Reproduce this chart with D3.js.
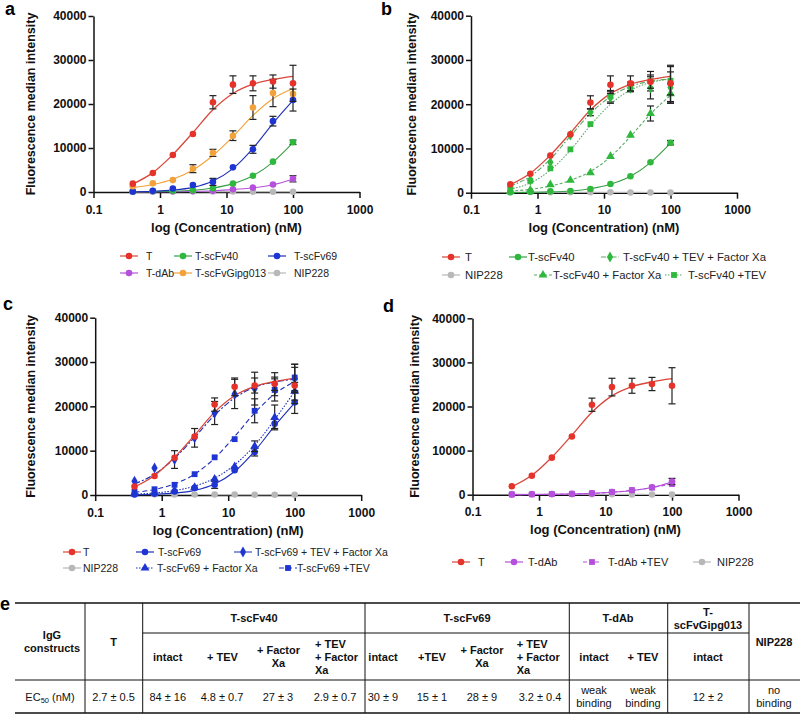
<!DOCTYPE html>
<html>
<head>
<meta charset="utf-8">
<script src="https://cdn.jsdelivr.net/npm/d3@7"></script>
<style>
  body { margin: 0; background: #fff; }
  svg { font-family: Arial, "Liberation Sans", sans-serif; }
</style>
</head>
<body>
<svg id="fig" width="800" height="714"></svg>
<script>
// ---- data ----
// concentrations of the dilution series (nM)
const concentrations = [0.39, 0.78, 1.56, 3.125, 6.25, 12.5, 25, 50, 100];
const xTicks = [0.1, 1, 10, 100, 1000];
const yTicks = [0, 10000, 20000, 30000, 40000];

// mean / error (SD) / fitted curve, one value per concentration
const tMean = [1900, 4300, 8400, 13200, 20400, 24400, 24700, 25100, 24700];
const tErr  = [0, 0, 0, 0, 1500, 2000, 1700, 1500, 4100];
const tFit  = [1800, 4400, 8500, 13500, 18700, 22400, 24500, 25600, 26300];

const scFv40Mean = [100, 200, 300, 400, 850, 1950, 3700, 6900, 11300];
const scFv40Err  = [0, 0, 0, 0, 0, 0, 0, 0, 500];
const scFv40Fit  = [30, 80, 180, 400, 900, 1900, 3700, 6800, 11200];

const scFv40TevMean = [800, 2700, 5500, 9800, 15500, 21800, 24000, 25200, 25300];
const scFv40TevErr  = [0, 0, 0, 0, 0, 1300, 1000, 2200, 3200];
const scFv40TevFit  = [800, 2200, 5100, 9600, 15200, 20000, 23200, 24900, 25700];

const scFv40FxMean = [300, 600, 1800, 2800, 4500, 8200, 13000, 17900, 22400];
const scFv40FxErr  = [0, 0, 0, 0, 0, 0, 0, 1700, 2200];
const scFv40FxFit  = [350, 750, 1500, 2800, 4800, 8100, 12700, 17800, 22000];

const scFv40TevFxMean = [1300, 2800, 6900, 13000, 18200, 21500, 23600, 23700, 23800];
const scFv40TevFxErr  = [0, 0, 0, 0, 800, 1300, 800, 2500, 3500];
const scFv40TevFxFit  = [1500, 3700, 7600, 12800, 17900, 21700, 24000, 25200, 25700];

const scFv69Mean = [100, 300, 800, 1600, 2300, 5600, 9700, 16100, 20900];
const scFv69Err  = [0, 0, 0, 0, 800, 0, 900, 1100, 2500];
const scFv69Fit  = [60, 160, 420, 1050, 2500, 5300, 9900, 15600, 20800];

const scFv69TevMean = [700, 1300, 2300, 4700, 8500, 12600, 19000, 23700, 26500];
const scFv69TevErr  = [0, 0, 0, 0, 0, 0, 2700, 2500, 3000];
const scFv69TevFit  = [600, 1250, 2500, 4700, 8300, 13200, 18500, 22800, 25600];

const scFv69FxMean = [300, 500, 1000, 1700, 3600, 6400, 11000, 17500, 23400];
const scFv69FxErr  = [0, 0, 0, 0, 0, 0, 1200, 2800, 2000];
const scFv69FxFit  = [200, 450, 1000, 2000, 3800, 6800, 11200, 17000, 23400];

const scFv69TevFxMean = [3100, 6100, 8000, 12900, 18500, 22800, 24000, 25000, 26300];
const scFv69TevFxErr  = [0, 0, 2000, 2100, 2600, 3300, 3700, 2600, 3200];
const scFv69TevFxFit  = [2500, 4700, 8300, 13000, 18000, 21900, 24300, 25500, 26100];

const dAbMean = [50, 100, 150, 200, 300, 600, 1000, 1700, 3000];
const dAbErr  = [0, 0, 0, 0, 0, 0, 0, 0, 700];
const dAbFit  = [20, 40, 80, 150, 290, 540, 950, 1650, 2900];

const dAbTevMean = [50, 80, 150, 200, 350, 650, 1050, 1600, 2400];
const dAbTevErr  = [0, 0, 0, 0, 0, 0, 0, 0, 0];
const dAbTevFit  = [20, 40, 80, 160, 300, 560, 980, 1600, 2500];

const gipgMean = [1300, 2000, 2700, 5300, 8900, 12800, 19200, 22500, 22300];
const gipgErr  = [0, 0, 0, 900, 800, 1100, 2700, 3100, 0];
const gipgFit  = [1000, 1700, 2900, 5000, 8300, 12600, 17400, 21200, 23500];

const nipMean = [150, 150, 100, 100, 100, 100, 50, 50, 50];
const nipErr  = [0, 0, 0, 0, 0, 0, 0, 0, 0];
const nipFit  = [120, 110, 100, 100, 90, 80, 70, 60, 50];

// table e
const tableGroups = ['T-scFv40', 'T-scFv69', 'T-dAb', 'T-scFvGipg013'];
const tableSubHeaders = ['intact', '+ TEV', '+ Factor Xa', '+ TEV + Factor Xa',
                         'intact', '+TEV', '+ Factor Xa', '+ TEV + Factor Xa',
                         'intact', '+ TEV', 'intact'];
const ec50Values = ['2.7 ± 0.5', '84 ± 16', '4.8 ± 0.7', '27 ± 3', '2.9 ± 0.7',
                    '30 ± 9', '15 ± 1', '28 ± 9', '3.2 ± 0.4',
                    'weak binding', 'weak binding', '12 ± 2', 'no binding'];

// ---- styles ----
const RED = '#e5322a', GREEN = '#2fb83d', BLUE = '#1e35d2',
      PURPLE = '#b550dc', ORANGE = '#f2a23a', GRAY = '#b8b8b8';

const series = {
  T:         {name: 'T', mean: tMean, err: tErr, fit: tFit, color: RED, line: '#d8463a', sym: d3.symbolCircle, dash: null},
  s40:       {name: 'T-scFv40', mean: scFv40Mean, err: scFv40Err, fit: scFv40Fit, color: GREEN, line: '#3a9f48', sym: d3.symbolCircle, dash: null},
  s40Tev:    {name: 'T-scFv40 +TEV', mean: scFv40TevMean, err: scFv40TevErr, fit: scFv40TevFit, color: GREEN, line: '#5aa864', sym: d3.symbolSquare, dash: '1.5,1.5'},
  s40Fx:     {name: 'T-scFv40 + Factor Xa', mean: scFv40FxMean, err: scFv40FxErr, fit: scFv40FxFit, color: GREEN, line: '#5aa864', sym: d3.symbolTriangle, dash: '3,2'},
  s40TevFx:  {name: 'T-scFv40 + TEV + Factor Xa', mean: scFv40TevFxMean, err: scFv40TevFxErr, fit: scFv40TevFxFit, color: GREEN, line: '#5aa864', sym: d3.symbolDiamond, dash: '5,2,1.5,2'},
  s69:       {name: 'T-scFv69', mean: scFv69Mean, err: scFv69Err, fit: scFv69Fit, color: BLUE, line: '#1c2fb8', sym: d3.symbolCircle, dash: null},
  s69Tev:    {name: 'T-scFv69 +TEV', mean: scFv69TevMean, err: scFv69TevErr, fit: scFv69TevFit, color: BLUE, line: '#1c2fb8', sym: d3.symbolSquare, dash: '5,3'},
  s69Fx:     {name: 'T-scFv69 + Factor Xa', mean: scFv69FxMean, err: scFv69FxErr, fit: scFv69FxFit, color: BLUE, line: '#1c2fb8', sym: d3.symbolTriangle, dash: '1.5,1.5'},
  s69TevFx:  {name: 'T-scFv69 + TEV + Factor Xa', mean: scFv69TevFxMean, err: scFv69TevFxErr, fit: scFv69TevFxFit, color: BLUE, line: '#1c2fb8', sym: d3.symbolDiamond, dash: '6,2,2,2'},
  dAb:       {name: 'T-dAb', mean: dAbMean, err: dAbErr, fit: dAbFit, color: PURPLE, line: PURPLE, sym: d3.symbolCircle, dash: null},
  dAbTev:    {name: 'T-dAb +TEV', mean: dAbTevMean, err: dAbTevErr, fit: dAbTevFit, color: PURPLE, line: PURPLE, sym: d3.symbolSquare, dash: '4,2'},
  gipg:      {name: 'T-scFvGipg013', mean: gipgMean, err: gipgErr, fit: gipgFit, color: ORANGE, line: ORANGE, sym: d3.symbolCircle, dash: null},
  nip:       {name: 'NIP228', mean: nipMean, err: nipErr, fit: nipFit, color: GRAY, line: GRAY, sym: d3.symbolCircle, dash: null}
};

const symSize = {};
symSize[d3.symbolCircle] = 32; symSize[d3.symbolSquare] = 30;
symSize[d3.symbolTriangle] = 34; symSize[d3.symbolDiamond] = 34;

// panel layouts (x0 = position of 0.1, x1 = position of 1000)
const panels = [
  {letter: 'a', lx: 5, ly: 15, x0: 93.5, x1: 359.5, y0: 192, y1: 16, ylabX: 31, lfont: 10.5,
   draw: ['nip', 'dAb', 's40', 's69', 'gipg', 'T'],
   legendRows: [256, 273],
   legend: [['T', 129, 146, 0], ['s40', 183, 195, 0], ['s69', 277, 294, 0],
            ['dAb', 129, 146, 1], ['gipg', 183, 195, 1], ['nip', 277, 294, 1]]},
  {letter: 'b', lx: 381, ly: 15, x0: 471, x1: 737, y0: 192.7, y1: 15.7, ylabX: 412, lfont: 11.3,
   draw: ['nip', 's40', 's40Fx', 's40Tev', 's40TevFx', 'T'],
   legendRows: [257, 275],
   legend: [['T', 451, 465, 0], ['s40', 518, 528, 0], ['s40TevFx', 610, 623, 0],
            ['nip', 451, 465, 1], ['s40Fx', 543, 553, 1], ['s40Tev', 674, 688, 1]]},
  {letter: 'c', lx: 3, ly: 310, x0: 95.2, x1: 361.2, y0: 495, y1: 317.7, ylabX: 31, lfont: 10.5,
   draw: ['nip', 's69', 's69Fx', 's69Tev', 's69TevFx', 'T'],
   legendRows: [552, 568],
   legend: [['T', 72, 83, 0], ['s69', 145, 158, 0], ['s69TevFx', 243, 255, 0],
            ['nip', 72, 83, 1], ['s69Fx', 145, 157, 1], ['s69Tev', 288, 297, 1]]},
  {letter: 'd', lx: 383, ly: 312, x0: 472.5, x1: 738.5, y0: 494.7, y1: 318.3, ylabX: 415, lfont: 11,
   draw: ['nip', 'dAbTev', 'dAb', 'T'],
   legendRows: [562],
   legend: [['T', 461, 478, 0], ['dAb', 514, 528, 0], ['dAbTev', 592, 608, 0], ['nip', 702, 717, 0]]}
];

const svg = d3.select('#fig');

panels.forEach(function(p) {
  let g = svg.append('g');
  let x = d3.scaleLog().domain([0.1, 1000]).range([p.x0, p.x1]);
  let y = d3.scaleLinear().domain([0, 40000]).range([p.y0, p.y1]);

  // axes
  let yAxis = g.append('g').attr('transform', 'translate(' + p.x0 + ',0)')
    .call(d3.axisLeft(y).tickValues(yTicks).tickSize(5).tickSizeOuter(0).tickPadding(2)
      .tickFormat(d3.format('d')));
  let xAxis = g.append('g').attr('transform', 'translate(0,' + p.y0 + ')')
    .call(d3.axisBottom(x).tickValues(xTicks).tickSize(6).tickSizeOuter(0).tickPadding(7)
      .tickFormat(function(d) { return String(d); }));
  [xAxis, yAxis].forEach(function(a) {
    a.select('.domain').attr('stroke', '#111').attr('stroke-width', 1.5);
    a.selectAll('.tick line').attr('stroke', '#111').attr('stroke-width', 1.5);
    a.selectAll('.tick text').attr('font-size', 12).attr('font-weight', 'bold').attr('fill', '#111')
      .attr('font-family', 'Arial, "Liberation Sans", sans-serif');
  });

  // axis titles
  g.append('text')
    .attr('x', (p.x0 + p.x1) / 2).attr('y', p.y0 + 39.5)
    .attr('text-anchor', 'middle').attr('font-size', 13).attr('font-weight', 'bold').attr('fill', '#111')
    .text('log (Concentration) (nM)');
  g.append('text')
    .attr('transform', 'translate(' + p.ylabX + ',' + ((p.y0 + p.y1) / 2) + ') rotate(-90)')
    .attr('dy', '0.35em')
    .attr('text-anchor', 'middle').attr('font-size', 12.5).attr('font-weight', 'bold').attr('fill', '#111')
    .text('Fluorescence median intensity');

  // panel letter
  svg.append('text').attr('x', p.lx).attr('y', p.ly)
    .attr('font-size', 18).attr('font-weight', 'bold').text(p.letter);

  let line = d3.line()
    .x(function(d) { return x(d[0]); })
    .y(function(d) { return y(d[1]); })
    .curve(d3.curveMonotoneX);

  // fitted curves
  p.draw.forEach(function(key) {
    let s = series[key];
    g.append('path')
      .datum(concentrations.map(function(c, i) { return [c, s.fit[i]]; }))
      .attr('d', line)
      .attr('fill', 'none')
      .attr('stroke', s.line)
      .attr('stroke-width', key === 'T' ? 1.3 : 1.1)
      .attr('stroke-dasharray', s.dash);
  });

  // error bars then markers
  p.draw.forEach(function(key) {
    let s = series[key];
    let pts = concentrations.map(function(c, i) { return {c: c, v: s.mean[i], e: s.err[i]}; });
    let eb = g.append('g').selectAll('g').data(pts.filter(function(d) { return d.e > 0; }))
      .enter().append('g').attr('stroke', '#222').attr('stroke-width', 1.2);
    eb.append('line')
      .attr('x1', function(d) { return x(d.c); }).attr('x2', function(d) { return x(d.c); })
      .attr('y1', function(d) { return y(d.v + d.e); }).attr('y2', function(d) { return y(d.v - d.e); });
    eb.append('line')
      .attr('x1', function(d) { return x(d.c) - 3.5; }).attr('x2', function(d) { return x(d.c) + 3.5; })
      .attr('y1', function(d) { return y(d.v + d.e); }).attr('y2', function(d) { return y(d.v + d.e); });
    eb.append('line')
      .attr('x1', function(d) { return x(d.c) - 3.5; }).attr('x2', function(d) { return x(d.c) + 3.5; })
      .attr('y1', function(d) { return y(d.v - d.e); }).attr('y2', function(d) { return y(d.v - d.e); });

    g.append('g').selectAll('path').data(pts).enter().append('path')
      .attr('d', d3.symbol().type(s.sym).size(symSize[s.sym]))
      .attr('transform', function(d) { return 'translate(' + x(d.c) + ',' + y(d.v) + ')'; })
      .attr('fill', s.color);
  });

  // legend
  p.legend.forEach(function(item) {
    let s = series[item[0]];
    let ly = p.legendRows[item[3]];
    g.append('line')
      .attr('x1', item[1] - 9).attr('x2', item[1] + 9).attr('y1', ly).attr('y2', ly)
      .attr('stroke', s.line).attr('stroke-width', 1.2).attr('stroke-dasharray', s.dash);
    g.append('path')
      .attr('d', d3.symbol().type(s.sym).size(symSize[s.sym]))
      .attr('transform', 'translate(' + item[1] + ',' + ly + ')')
      .attr('fill', s.color);
    g.append('text').attr('x', item[2]).attr('y', ly + 4)
      .attr('font-size', p.lfont).attr('fill', '#222').text(s.name);
  });
});

// ---- table e ----
const tb = svg.append('g').attr('font-size', 11).attr('fill', '#111');
svg.append('text').attr('x', 0).attr('y', 610).attr('font-size', 18).attr('font-weight', 'bold').text('e');

const tTop = 603, tMid = 633, tHead = 680, tBot = 713;
const vLines = [85, 142.7, 365, 569.3, 667.7, 749];

function hline(y, xa, xb, w) {
  tb.append('line').attr('x1', xa).attr('x2', xb).attr('y1', y).attr('y2', y)
    .attr('stroke', '#111').attr('stroke-width', w);
}
hline(tTop, 15, 800, 1.3);
hline(tMid, vLines[1], vLines[5], 1);
hline(tHead, 15, 800, 1);
hline(tBot, 15, 800, 1.3);
vLines.forEach(function(vx) {
  tb.append('line').attr('x1', vx).attr('x2', vx).attr('y1', tTop).attr('y2', tBot)
    .attr('stroke', '#111').attr('stroke-width', 1);
});

// multi-line text centred vertically on yc
function cell(xp, yc, lines, anchor, bold) {
  let t = tb.append('text').attr('text-anchor', anchor)
    .attr('font-weight', bold ? 'bold' : 'normal');
  lines.forEach(function(l, i) {
    t.append('tspan').attr('x', xp)
      .attr('y', yc - (lines.length - 1) * 13 / 2 + i * 13 + 4)
      .text(l);
  });
}
// line breaks used in the table
function wrapLabel(s) {
  if (s === '+ TEV + Factor Xa') return ['+ TEV', '+ Factor', 'Xa'];
  if (s === '+ Factor Xa') return ['+ Factor', 'Xa'];
  if (s === 'T-scFvGipg013') return ['T-', 'scFvGipg013'];
  if (s === 'weak binding') return ['weak', 'binding'];
  if (s === 'no binding') return ['no', 'binding'];
  if (s === 'IgG constructs') return ['IgG', 'constructs'];
  return [s];
}

const groupX = [254, 467, 618, 708];
const subX = [167.7, 222.5, 278.5, 315, 383, 432, 482, 516.7, 594, 643, 708];
const dataX = [113.5, 167.7, 222, 278, 335, 383, 432, 482, 540, 594, 643, 708, 774];

cell(52, (tTop + tHead) / 2, wrapLabel('IgG constructs'), 'middle', true);
cell(113.5, (tTop + tHead) / 2, ['T'], 'middle', true);
cell(774, (tTop + tHead) / 2, ['NIP228'], 'middle', true);
tableGroups.forEach(function(name, i) {
  cell(groupX[i], (tTop + tMid) / 2, wrapLabel(name), 'middle', true);
});
tableSubHeaders.forEach(function(name, i) {
  let lines = wrapLabel(name);
  cell(subX[i], (tMid + tHead) / 2, lines, lines.length === 3 ? 'start' : 'middle', true);
});
ec50Values.forEach(function(v, i) {
  cell(dataX[i], (tHead + tBot) / 2, wrapLabel(v), 'middle', false);
});
// EC50 (nM) with subscript
let ec = tb.append('text').attr('x', 50).attr('y', (tHead + tBot) / 2 + 4).attr('text-anchor', 'middle');
ec.append('tspan').text('EC');
ec.append('tspan').attr('font-size', 7.5).attr('dy', 2.5).text('50');
ec.append('tspan').attr('dy', -2.5).text(' (nM)');
</script>
</body>
</html>
